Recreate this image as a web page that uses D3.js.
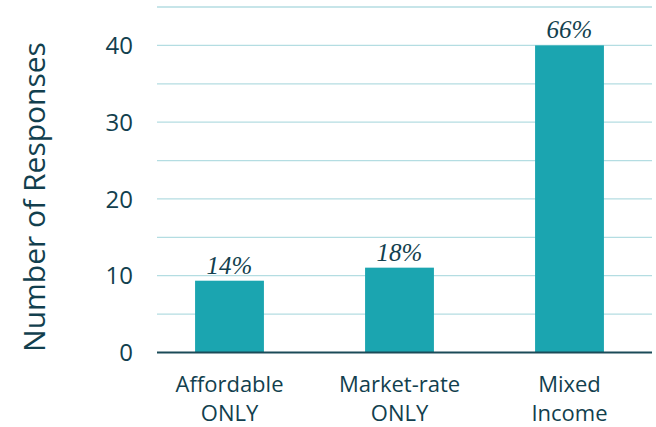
<!DOCTYPE html>
<html lang="en">
<head>
<meta charset="utf-8">
<title>Responses</title>
<script src="https://d3js.org/d3.v7.min.js"></script>
<style>
  body { margin: 0; background: #fff; }
  text { font-family: "Open Sans", sans-serif; fill: #123f4e; }
  .pct { font-family: "Liberation Serif", serif; font-style: italic; }
</style>
</head>
<body>
<svg id="chart"></svg>
<script>
// data
var categories = [["Affordable", "ONLY"], ["Market-rate", "ONLY"], ["Mixed", "Income"]];
var responses = [9.35, 11.05, 40];
var percents = ["14%", "18%", "66%"];
var gridTicks = [5, 10, 15, 20, 25, 30, 35, 40, 45];
var labelTicks = [0, 10, 20, 30, 40];

var config = { w: 656, h: 427, left: 157, right: 652, top: 7, bottom: 352.5 };

var svg = d3.select("#chart")
  .attr("width", config.w)
  .attr("height", config.h);

var y = d3.scaleLinear()
  .domain([0, 45])
  .range([config.bottom, config.top]);

// band centers sit at ~230, 400, 570
var x = d3.scaleBand()
  .domain(d3.range(categories.length))
  .range([144.5, 654.5])
  .paddingInner(0.595)
  .paddingOuter(0.2975);

// light gridlines
svg.append("g").selectAll("line")
  .data(gridTicks)
  .enter()
  .append("line")
    .attr("x1", config.left)
    .attr("x2", config.right)
    .attr("y1", function(d) { return y(d); })
    .attr("y2", function(d) { return y(d); })
    .attr("stroke", "#b4dde2")
    .attr("stroke-width", 1.3);

// bars
svg.append("g").selectAll("rect")
  .data(responses)
  .enter()
  .append("rect")
    .attr("x", function(d, i) { return x(i); })
    .attr("width", x.bandwidth())
    .attr("y", function(d) { return y(d); })
    .attr("height", function(d) { return y(0) - y(d); })
    .attr("fill", "#1ba5b0");

// baseline
svg.append("line")
  .attr("x1", config.left)
  .attr("x2", config.right)
  .attr("y1", y(0))
  .attr("y2", y(0))
  .attr("stroke", "#1b4b58")
  .attr("stroke-width", 2.2);

// y tick labels
svg.append("g").selectAll("text")
  .data(labelTicks)
  .enter()
  .append("text")
    .attr("x", 133)
    .attr("y", function(d) { return y(d); })
    .attr("dy", "0.36em")
    .attr("text-anchor", "end")
    .style("font-size", "24px")
    .text(function(d) { return d; });

// percent labels
svg.append("g").selectAll("text")
  .data(responses)
  .enter()
  .append("text")
    .attr("class", "pct")
    .attr("x", function(d, i) { return x(i) + x.bandwidth() / 2; })
    .attr("y", function(d) { return y(d) - 7; })
    .attr("text-anchor", "middle")
    .style("font-size", "25px")
    .text(function(d, i) { return percents[i]; });

// category labels, two lines each
var cat = svg.append("g").selectAll("text")
  .data(categories)
  .enter()
  .append("text")
    .attr("text-anchor", "middle")
    .style("font-size", "22px");

cat.each(function(d, i) {
  var t = d3.select(this);
  var cx = x(i) + x.bandwidth() / 2;
  t.append("tspan").attr("x", cx).attr("y", 392).text(d[0]);
  t.append("tspan").attr("x", cx).attr("y", 421).text(d[1]);
});

// y axis title
svg.append("text")
  .attr("transform", "translate(45,197) rotate(-90)")
  .attr("text-anchor", "middle")
  .style("font-size", "30px")
  .text("Number of Responses");
</script>
</body>
</html>
